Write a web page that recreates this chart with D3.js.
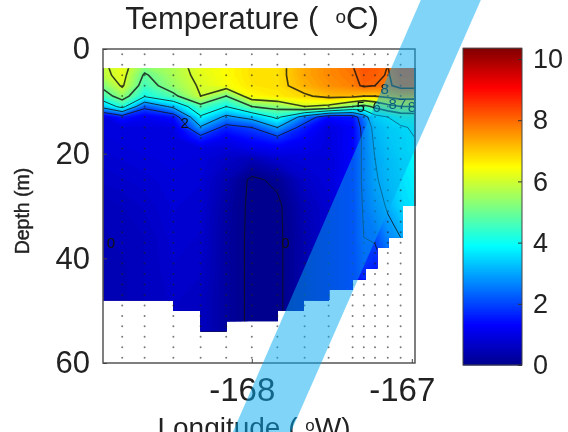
<!DOCTYPE html>
<html>
<head>
<meta charset="utf-8">
<script src="https://cdn.jsdelivr.net/npm/d3@7"></script>
<style>
  html, body { margin: 0; padding: 0; background: #fff; overflow: hidden; }
  svg { display: block; font-family: "Liberation Sans", Arial, sans-serif; filter: blur(0.6px); }
</style>
</head>
<body>
<div id="chart"></div>
<script>
// station columns of the section (deg), first and last are the plot edges
const lons = [-168.93, -168.81, -168.67, -168.49, -168.32, -168.16, -168.0, -167.84,
  -167.67, -167.52, -167.37, -167.3, -167.23, -167.15, -167.07, -166.98];
const depths = [3, 5, 7, 9, 11, 13, 15, 17, 19, 21, 25, 30, 36, 42, 48, 54];

// temperature, one row per column in lons, one value per depth
const temps = [
  [5.9, 5.8, 5.2, 4.6, 3.3, 0.98, 0.95, 0.9, 0.85, 0.8, 0.7, 0.55, 0.5, 0.5, 0.5, 0.5],
  [6.3, 6.25, 6.1, 5.4, 4.3, 1.6, 0.97, 0.95, 0.9, 0.85, 0.75, 0.6, 0.55, 0.5, 0.5, 0.5],
  [5.4, 4.9, 4.6, 4.1, 2.2, 1.2, 0.97, 0.96, 0.95, 0.9, 0.8, 0.7, 0.6, 0.6, 0.6, 0.6],
  [5.7, 5.65, 5.45, 4.8, 3.2, 1.5, 0.98, 0.97, 0.96, 0.95, 0.9, 0.85, 0.8, 0.75, 0.7, 0.7],
  [6.3, 6.2, 6.1, 6.0, 4.7, 3.9, 2.9, 1.7, 0.98, 0.9, 0.85, 0.8, 0.75, 0.7, 0.6, 0.6],
  [6.5, 6.5, 6.4, 5.0, 4.0, 2.8, 1.7, 1.2, 0.9, 0.7, 0.45, 0.3, 0.25, 0.25, 0.25, 0.25],
  [6.8, 6.8, 6.75, 6.5, 5.0, 3.3, 2.0, 1.5, 1.1, 0.5, -0.1, -0.1, -0.1, -0.1, -0.1, -0.1],
  [6.8, 6.8, 6.8, 6.7, 5.3, 4.2, 3.0, 1.8, 1.2, 0.8, 0.1, -0.1, -0.1, -0.1, -0.1, -0.1],
  [7.4, 7.4, 7.3, 6.9, 6.0, 2.6, 1.6, 1.3, 1.1, 0.9, 0.7, 0.5, 0.4, 0.4, 0.4, 0.4],
  [7.7, 7.7, 7.6, 7.2, 5.8, 1.4, 0.98, 0.95, 0.95, 0.9, 0.9, 0.8, 0.8, 0.8, 0.8, 0.8],
  [8.0, 7.9, 7.8, 7.2, 5.0, 1.5, 1.3, 1.3, 1.3, 1.3, 1.3, 1.3, 1.3, 1.3, 1.3, 1.3],
  [8.3, 8.2, 8.1, 7.0, 4.7, 2.6, 2.3, 2.2, 2.2, 2.2, 2.2, 2.1, 2.0, 1.8, 1.6, 1.5],
  [8.2, 8.15, 8.0, 7.0, 5.2, 3.7, 3.3, 3.2, 3.1, 3.0, 2.9, 2.6, 2.1, 1.6, 1.4, 1.3],
  [8.0, 7.95, 7.9, 7.2, 5.7, 4.0, 3.7, 3.6, 3.5, 3.4, 3.3, 3.1, 2.7, 2.2, 2.0, 2.0],
  [8.4, 8.3, 8.2, 7.4, 6.0, 4.4, 3.9, 3.8, 3.8, 3.7, 3.6, 3.5, 3.0, 2.8, 2.8, 2.8],
  [8.4, 8.3, 8.2, 7.4, 6.0, 4.5, 4.1, 4.0, 4.0, 3.9, 3.8, 3.7, 3.4, 3.2, 3.2, 3.2]
];

// sea floor: steps between stepLons, bottomDepths[i] applies to stepLons[i]..stepLons[i+1]
const stepLons = [-168.93, -168.49, -168.32, -168.16, -167.84, -167.68, -167.52,
  -167.375, -167.29, -167.22, -167.15, -167.06, -166.98];
const bottomDepths = [48, 50, 54, 52, 50, 48, 46, 44, 42, 38, 36, 30];
const topDepth = 3.7;

// sample positions shown as dots
const dotLons = lons.slice(1, -1);
const dotDepths = d3.range(1, 60, 2);

const contourLevels = [0, 2, 3, 4, 5, 6, 7, 8];
const labelLons = [-168.42, -168.88, -167.79, -167.32, -167.22, -167.06, -167.0, -167.17, -167.12];
const labelDepths = [14, 37, 37, 11, 11, 10.5, 11, 7.5, 10.5];
const labelTexts = ["2", "0", "0", "5", "6", "7", "8", "8", "8"];

const xTicks = [-168, -167];
const yTicks = [0, 20, 40, 60];
const barTicks = [0, 2, 4, 6, 8, 10];
const colorMax = 10.35;

const width = 568, height = 432;

const svg = d3.select("#chart").append("svg")
  .attr("width", width)
  .attr("height", height);

const x = d3.scaleLinear().domain([-168.93, -166.98]).range([103, 415]);
const y = d3.scaleLinear().domain([0, 60]).range([49, 363]);

// jet colormap
const color = d3.scaleLinear()
  .domain([0, 1 / 8, 3 / 8, 5 / 8, 7 / 8, 1].map(d => d * colorMax))
  .range(["#00008f", "#0000ff", "#00ffff", "#ffff00", "#ff0000", "#800000"])
  .clamp(true);

// grid index -> pixel, the section is not evenly spaced
const colPx = d3.scaleLinear().domain(d3.range(lons.length)).range(lons.map(x)).clamp(true);
const rowPx = d3.scaleLinear().domain(d3.range(depths.length)).range(depths.map(y)).clamp(true);
const path = d3.geoPath(d3.geoTransform({
  point: function (px, py) {
    this.stream.point(colPx(px - 0.5), rowPx(py - 0.5));
  }
}));

const nx = lons.length, ny = depths.length;
const grid = [];
for (let j = 0; j < ny; j++) {
  for (let i = 0; i < nx; i++) grid.push(temps[i][j]);
}
const contours = d3.contours().size([nx, ny]).smooth(true);

// clip the field to the water column
svg.append("clipPath").attr("id", "water")
  .selectAll("rect")
  .data(bottomDepths)
  .join("rect")
  .attr("x", (d, i) => x(stepLons[i]))
  .attr("width", (d, i) => x(stepLons[i + 1]) - x(stepLons[i]) + 0.5)
  .attr("y", y(topDepth))
  .attr("height", d => y(d) - y(topDepth));

const field = svg.append("g").attr("clip-path", "url(#water)");

// filled shading: fine steps so it reads as a continuous field
const shadeLevels = d3.range(-0.2, 9.2, 0.08);
field.selectAll("path.shade")
  .data(contours.thresholds(shadeLevels)(grid))
  .join("path")
  .attr("class", "shade")
  .attr("d", path)
  .attr("fill", d => color(d.value))
  .attr("stroke", d => color(d.value))
  .attr("stroke-width", 0.3);

field.selectAll("path.line")
  .data(contours.thresholds(contourLevels)(grid))
  .join("path")
  .attr("class", "line")
  .attr("d", path)
  .attr("fill", "none")
  .attr("stroke", "#111")
  .attr("stroke-opacity", 0.8)
  .attr("stroke-width", d => (d.value >= 5 ? 1.6 : 1));

// sample dots
const dots = d3.cross(dotLons, dotDepths);
svg.append("g").selectAll("circle")
  .data(dots)
  .join("circle")
  .attr("cx", d => x(d[0]))
  .attr("cy", d => y(d[1]))
  .attr("r", 1)
  .attr("fill", "#222")
  .attr("fill-opacity", 0.6);

// contour labels
svg.append("g").selectAll("text")
  .data(labelTexts)
  .join("text")
  .attr("x", (d, i) => x(labelLons[i]))
  .attr("y", (d, i) => y(labelDepths[i]))
  .attr("text-anchor", "middle")
  .attr("dy", "0.35em")
  .attr("font-size", 15)
  .attr("fill", "#111")
  .text(d => d);

// frame
svg.append("rect")
  .attr("x", x.range()[0])
  .attr("y", y.range()[0])
  .attr("width", x.range()[1] - x.range()[0])
  .attr("height", y.range()[1] - y.range()[0])
  .attr("fill", "none")
  .attr("stroke", "#555")
  .attr("stroke-width", 1.5);

// axes
const yAxis = svg.append("g")
  .attr("transform", `translate(${x.range()[0]},0)`)
  .call(d3.axisLeft(y).tickValues(yTicks).tickSize(-4).tickPadding(13));
const xAxis = svg.append("g")
  .attr("transform", `translate(0,${y.range()[1]})`)
  .call(d3.axisBottom(x).tickValues(xTicks).tickSize(-4).tickFormat(d => String(d)).tickPadding(15));
[xAxis, yAxis].forEach(a => {
  a.select(".domain").remove();
  a.selectAll("line").attr("stroke", "#444");
  a.selectAll("text")
    .attr("font-size", 31)
    .attr("font-family", "Liberation Sans")
    .attr("fill", "#222");
});
xAxis.selectAll("text").attr("dx", -10).attr("font-size", 33);

// title and axis names
const title = svg.append("text")
  .attr("x", 252)
  .attr("y", 29)
  .attr("text-anchor", "middle")
  .attr("font-size", 31)
  .attr("fill", "#222");
title.append("tspan").text("Temperature (\u00a0 ");
title.append("tspan").attr("font-size", 19).attr("dy", -6).text("o");
title.append("tspan").attr("dy", 6).text("C)");

svg.append("text")
  .attr("transform", "translate(29,211) rotate(-90)")
  .attr("text-anchor", "middle")
  .attr("font-size", 19.5)
  .attr("fill", "#222")
  .attr("stroke", "#222")
  .attr("stroke-width", 0.4)
  .text("Depth (m)");

const xName = svg.append("text")
  .attr("x", 254)
  .attr("y", 437)
  .attr("text-anchor", "middle")
  .attr("font-size", 28)
  .attr("fill", "#222");
xName.append("tspan").text("Longitude ( ");
xName.append("tspan").attr("font-size", 17).attr("dy", -6).text("o");
xName.append("tspan").attr("dy", 6).text("W)");

// colour bar
const barY = d3.scaleLinear().domain([0, 10]).range([365, 59]);
const barX = 463, barW = 59;
const barSteps = d3.range(0, colorMax, 0.05);
svg.append("g").selectAll("rect")
  .data(barSteps)
  .join("rect")
  .attr("x", barX)
  .attr("width", barW)
  .attr("y", d => barY(d + 0.05) - 0.5)
  .attr("height", d => barY(d) - barY(d + 0.05) + 1)
  .attr("fill", d => color(d));
svg.append("rect")
  .attr("x", barX)
  .attr("y", barY(colorMax))
  .attr("width", barW)
  .attr("height", barY(0) - barY(colorMax))
  .attr("fill", "none")
  .attr("stroke", "#444");
const barAxis = svg.append("g")
  .attr("transform", `translate(${barX + barW},0)`)
  .call(d3.axisRight(barY).tickValues(barTicks).tickSize(-4).tickPadding(11));
barAxis.select(".domain").remove();
barAxis.selectAll("line").attr("stroke", "#333");
barAxis.selectAll("text")
  .attr("font-size", 27)
  .attr("font-family", "Liberation Sans")
  .attr("fill", "#222");

// the translucent strip lying across the picture
const strip = d3.path();
strip.moveTo(421.7, -2);
strip.lineTo(481.7, -2);
strip.lineTo(290, 434);
strip.lineTo(232, 434);
strip.closePath();
svg.append("path")
  .attr("d", strip.toString())
  .attr("fill", "#00aaf0")
  .attr("fill-opacity", 0.5);
</script>
</body>
</html>
